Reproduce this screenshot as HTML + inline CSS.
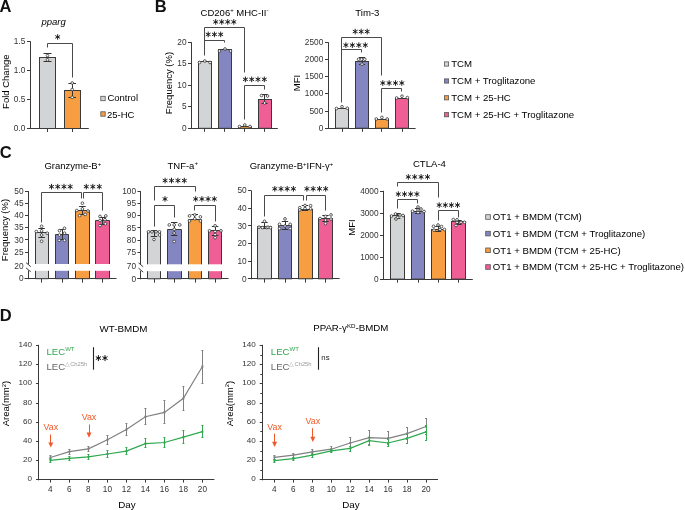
<!DOCTYPE html>
<html><head><meta charset="utf-8"><style>
html,body{margin:0;padding:0;background:#fff;}
body{width:685px;height:510px;overflow:hidden;}
svg{display:block;will-change:transform;}
text{font-family:"Liberation Sans",sans-serif;}
</style></head><body>
<svg width="685" height="510" viewBox="0 0 685 510" font-family="Liberation Sans, sans-serif">
<rect width="685" height="510" fill="#fff"/>
<text x="-0.60" y="11.80" font-size="16.5" text-anchor="start" fill="#111" font-weight="bold">A</text>
<text x="154.80" y="11.80" font-size="16.5" text-anchor="start" fill="#111" font-weight="bold">B</text>
<text x="-0.30" y="157.80" font-size="16.5" text-anchor="start" fill="#111" font-weight="bold">C</text>
<text x="-0.20" y="320.80" font-size="16.5" text-anchor="start" fill="#111" font-weight="bold">D</text>
<text x="53.60" y="24.60" font-size="9.5" text-anchor="middle" fill="#000" font-style="italic">pparg</text>
<line x1="30.50" y1="41.30" x2="30.50" y2="129.00" stroke="#3a3a3a" stroke-width="1"/>
<line x1="27.00" y1="128.50" x2="30.40" y2="128.50" stroke="#3a3a3a" stroke-width="1"/>
<text x="25.40" y="131.10" font-size="8.3" text-anchor="end" fill="#333" >0.0</text>
<line x1="27.00" y1="99.50" x2="30.40" y2="99.50" stroke="#3a3a3a" stroke-width="1"/>
<text x="25.40" y="102.03" font-size="8.3" text-anchor="end" fill="#333" >0.5</text>
<line x1="27.00" y1="70.50" x2="30.40" y2="70.50" stroke="#3a3a3a" stroke-width="1"/>
<text x="25.40" y="72.97" font-size="8.3" text-anchor="end" fill="#333" >1.0</text>
<line x1="27.00" y1="41.50" x2="30.40" y2="41.50" stroke="#3a3a3a" stroke-width="1"/>
<text x="25.40" y="43.90" font-size="8.3" text-anchor="end" fill="#333" >1.5</text>
<line x1="27.00" y1="128.50" x2="88.80" y2="128.50" stroke="#3a3a3a" stroke-width="1"/>
<rect x="39.50" y="57.50" width="16.00" height="71.00" fill="#d3d4d6" stroke="#3a3a3a" stroke-width="1"/>
<rect x="64.50" y="90.50" width="16.00" height="38.00" fill="#f79d42" stroke="#3a3a3a" stroke-width="1"/>
<line x1="47.50" y1="128.50" x2="47.50" y2="132.00" stroke="#3a3a3a" stroke-width="1"/>
<line x1="72.50" y1="128.50" x2="72.50" y2="132.00" stroke="#3a3a3a" stroke-width="1"/>
<line x1="47.50" y1="53.30" x2="47.50" y2="61.80" stroke="#333" stroke-width="1"/>
<line x1="43.50" y1="53.50" x2="51.50" y2="53.50" stroke="#333" stroke-width="1"/>
<line x1="43.50" y1="61.50" x2="51.50" y2="61.50" stroke="#333" stroke-width="1"/>
<circle cx="47.50" cy="55.60" r="1.35" fill="#fff" stroke="#333" stroke-width="0.8"/>
<circle cx="47.50" cy="59.80" r="1.35" fill="#fff" stroke="#333" stroke-width="0.8"/>
<line x1="72.50" y1="83.00" x2="72.50" y2="97.30" stroke="#333" stroke-width="1"/>
<line x1="68.40" y1="83.50" x2="76.00" y2="83.50" stroke="#333" stroke-width="1"/>
<line x1="68.40" y1="97.50" x2="76.00" y2="97.50" stroke="#333" stroke-width="1"/>
<circle cx="72.20" cy="83.00" r="1.35" fill="#fff" stroke="#333" stroke-width="0.8"/>
<circle cx="72.20" cy="89.50" r="1.35" fill="#fff" stroke="#333" stroke-width="0.8"/>
<circle cx="72.20" cy="97.30" r="1.35" fill="#fff" stroke="#333" stroke-width="0.8"/>
<polyline points="47.50,47.50 47.50,43.50 72.50,43.50 72.50,77.50" fill="none" stroke="#4a4a4a" stroke-width="1"/>
<path d="M57.65,34.55L57.65,39.35M55.57,35.75L59.73,38.15M59.73,35.75L55.57,38.15" stroke="#222" stroke-width="1.0" stroke-linecap="round" fill="none"/>
<circle cx="57.65" cy="36.95" r="0.9" fill="#222"/>
<text x="0" y="0" font-size="9.5" text-anchor="middle" fill="#000" transform="translate(9.30,81.70) rotate(-90)">Fold Change</text>
<rect x="100.80" y="96.30" width="4.40" height="4.40" fill="#d3d4d6" stroke="#555" stroke-width="0.8"/>
<text x="107.40" y="101.30" font-size="9.5" text-anchor="start" fill="#000" >Control</text>
<rect x="100.80" y="111.80" width="4.40" height="4.40" fill="#f79d42" stroke="#555" stroke-width="0.8"/>
<text x="107.00" y="117.50" font-size="9.5" text-anchor="start" fill="#000" >25-HC</text>
<text x="200.60" y="15.70" font-size="9.5" text-anchor="start" fill="#000" >CD206<tspan font-size="6" dy="-3.5">+</tspan><tspan dy="3.5"> MHC-II</tspan><tspan font-size="6" dy="-3.5">-</tspan></text>
<line x1="191.50" y1="42.20" x2="191.50" y2="128.80" stroke="#3a3a3a" stroke-width="1"/>
<line x1="188.00" y1="128.50" x2="191.50" y2="128.50" stroke="#3a3a3a" stroke-width="1"/>
<text x="186.50" y="130.90" font-size="8.3" text-anchor="end" fill="#333" >0</text>
<line x1="188.00" y1="106.50" x2="191.50" y2="106.50" stroke="#3a3a3a" stroke-width="1"/>
<text x="186.50" y="109.40" font-size="8.3" text-anchor="end" fill="#333" >5</text>
<line x1="188.00" y1="85.50" x2="191.50" y2="85.50" stroke="#3a3a3a" stroke-width="1"/>
<text x="186.50" y="87.90" font-size="8.3" text-anchor="end" fill="#333" >10</text>
<line x1="188.00" y1="63.50" x2="191.50" y2="63.50" stroke="#3a3a3a" stroke-width="1"/>
<text x="186.50" y="66.40" font-size="8.3" text-anchor="end" fill="#333" >15</text>
<line x1="188.00" y1="42.50" x2="191.50" y2="42.50" stroke="#3a3a3a" stroke-width="1"/>
<text x="186.50" y="44.90" font-size="8.3" text-anchor="end" fill="#333" >20</text>
<line x1="188.00" y1="128.50" x2="277.80" y2="128.50" stroke="#3a3a3a" stroke-width="1"/>
<text x="0" y="0" font-size="9.5" text-anchor="middle" fill="#000" transform="translate(171.60,83.00) rotate(-90)">Frequency (%)</text>
<rect x="198.50" y="61.50" width="13.00" height="66.80" fill="#d3d4d6" stroke="#3a3a3a" stroke-width="1"/>
<line x1="204.50" y1="128.30" x2="204.50" y2="131.80" stroke="#3a3a3a" stroke-width="1"/>
<rect x="218.50" y="49.50" width="13.00" height="78.80" fill="#8486c1" stroke="#3a3a3a" stroke-width="1"/>
<line x1="224.50" y1="128.30" x2="224.50" y2="131.80" stroke="#3a3a3a" stroke-width="1"/>
<rect x="238.50" y="126.50" width="13.00" height="1.80" fill="#f79d42" stroke="#3a3a3a" stroke-width="1"/>
<line x1="244.50" y1="128.30" x2="244.50" y2="131.80" stroke="#3a3a3a" stroke-width="1"/>
<rect x="258.50" y="99.50" width="13.00" height="28.80" fill="#ef5f95" stroke="#3a3a3a" stroke-width="1"/>
<line x1="264.50" y1="128.30" x2="264.50" y2="131.80" stroke="#3a3a3a" stroke-width="1"/>
<circle cx="199.50" cy="62.50" r="1.35" fill="#fff" stroke="#333" stroke-width="0.8"/>
<circle cx="204.80" cy="61.00" r="1.35" fill="#fff" stroke="#333" stroke-width="0.8"/>
<circle cx="210.00" cy="62.50" r="1.35" fill="#fff" stroke="#333" stroke-width="0.8"/>
<circle cx="219.50" cy="51.00" r="1.35" fill="#fff" stroke="#333" stroke-width="0.8"/>
<circle cx="225.00" cy="49.00" r="1.35" fill="#fff" stroke="#333" stroke-width="0.8"/>
<circle cx="230.50" cy="51.00" r="1.35" fill="#fff" stroke="#333" stroke-width="0.8"/>
<circle cx="239.50" cy="126.50" r="1.35" fill="#fff" stroke="#333" stroke-width="0.8"/>
<circle cx="244.80" cy="125.00" r="1.35" fill="#fff" stroke="#333" stroke-width="0.8"/>
<circle cx="250.00" cy="126.50" r="1.35" fill="#fff" stroke="#333" stroke-width="0.8"/>
<line x1="264.50" y1="94.60" x2="264.50" y2="103.40" stroke="#333" stroke-width="1"/>
<line x1="261.60" y1="94.50" x2="267.60" y2="94.50" stroke="#333" stroke-width="1"/>
<line x1="261.60" y1="103.50" x2="267.60" y2="103.50" stroke="#333" stroke-width="1"/>
<circle cx="261.50" cy="95.50" r="1.35" fill="#fff" stroke="#333" stroke-width="0.8"/>
<circle cx="267.50" cy="96.00" r="1.35" fill="#fff" stroke="#333" stroke-width="0.8"/>
<circle cx="264.60" cy="103.00" r="1.35" fill="#fff" stroke="#333" stroke-width="0.8"/>
<polyline points="204.50,55.50 204.50,27.50 244.50,27.50 244.50,72.50" fill="none" stroke="#4a4a4a" stroke-width="1"/>
<path d="M215.70,19.50L215.70,24.30M213.62,20.70L217.78,23.10M217.78,20.70L213.62,23.10" stroke="#222" stroke-width="1.0" stroke-linecap="round" fill="none"/>
<circle cx="215.70" cy="21.90" r="0.9" fill="#222"/>
<path d="M221.73,19.50L221.73,24.30M219.65,20.70L223.81,23.10M223.81,20.70L219.65,23.10" stroke="#222" stroke-width="1.0" stroke-linecap="round" fill="none"/>
<circle cx="221.73" cy="21.90" r="0.9" fill="#222"/>
<path d="M227.77,19.50L227.77,24.30M225.69,20.70L229.85,23.10M229.85,20.70L225.69,23.10" stroke="#222" stroke-width="1.0" stroke-linecap="round" fill="none"/>
<circle cx="227.77" cy="21.90" r="0.9" fill="#222"/>
<path d="M233.80,19.50L233.80,24.30M231.72,20.70L235.88,23.10M235.88,20.70L231.72,23.10" stroke="#222" stroke-width="1.0" stroke-linecap="round" fill="none"/>
<circle cx="233.80" cy="21.90" r="0.9" fill="#222"/>
<polyline points="204.50,40.50 224.50,40.50 224.50,42.50" fill="none" stroke="#4a4a4a" stroke-width="1"/>
<path d="M208.20,32.00L208.20,36.80M206.12,33.20L210.28,35.60M210.28,33.20L206.12,35.60" stroke="#222" stroke-width="1.0" stroke-linecap="round" fill="none"/>
<circle cx="208.20" cy="34.40" r="0.9" fill="#222"/>
<path d="M214.45,32.00L214.45,36.80M212.37,33.20L216.53,35.60M216.53,33.20L212.37,35.60" stroke="#222" stroke-width="1.0" stroke-linecap="round" fill="none"/>
<circle cx="214.45" cy="34.40" r="0.9" fill="#222"/>
<path d="M220.70,32.00L220.70,36.80M218.62,33.20L222.78,35.60M222.78,33.20L218.62,35.60" stroke="#222" stroke-width="1.0" stroke-linecap="round" fill="none"/>
<circle cx="220.70" cy="34.40" r="0.9" fill="#222"/>
<polyline points="244.50,119.50 244.50,85.50 264.50,85.50 264.50,89.50" fill="none" stroke="#4a4a4a" stroke-width="1"/>
<path d="M245.40,76.95L245.40,81.75M243.32,78.15L247.48,80.55M247.48,78.15L243.32,80.55" stroke="#222" stroke-width="1.0" stroke-linecap="round" fill="none"/>
<circle cx="245.40" cy="79.35" r="0.9" fill="#222"/>
<path d="M251.70,76.95L251.70,81.75M249.62,78.15L253.78,80.55M253.78,78.15L249.62,80.55" stroke="#222" stroke-width="1.0" stroke-linecap="round" fill="none"/>
<circle cx="251.70" cy="79.35" r="0.9" fill="#222"/>
<path d="M258.00,76.95L258.00,81.75M255.92,78.15L260.08,80.55M260.08,78.15L255.92,80.55" stroke="#222" stroke-width="1.0" stroke-linecap="round" fill="none"/>
<circle cx="258.00" cy="79.35" r="0.9" fill="#222"/>
<path d="M264.30,76.95L264.30,81.75M262.22,78.15L266.38,80.55M266.38,78.15L262.22,80.55" stroke="#222" stroke-width="1.0" stroke-linecap="round" fill="none"/>
<circle cx="264.30" cy="79.35" r="0.9" fill="#222"/>
<text x="355.30" y="15.80" font-size="9.6" text-anchor="start" fill="#000" >Tim-3</text>
<line x1="328.50" y1="42.20" x2="328.50" y2="128.70" stroke="#3a3a3a" stroke-width="1"/>
<line x1="325.00" y1="128.50" x2="328.40" y2="128.50" stroke="#3a3a3a" stroke-width="1"/>
<text x="323.30" y="130.80" font-size="8.3" text-anchor="end" fill="#333" >0</text>
<line x1="325.00" y1="111.50" x2="328.40" y2="111.50" stroke="#3a3a3a" stroke-width="1"/>
<text x="323.30" y="113.60" font-size="8.3" text-anchor="end" fill="#333" >500</text>
<line x1="325.00" y1="93.50" x2="328.40" y2="93.50" stroke="#3a3a3a" stroke-width="1"/>
<text x="323.30" y="96.40" font-size="8.3" text-anchor="end" fill="#333" >1000</text>
<line x1="325.00" y1="76.50" x2="328.40" y2="76.50" stroke="#3a3a3a" stroke-width="1"/>
<text x="323.30" y="79.20" font-size="8.3" text-anchor="end" fill="#333" >1500</text>
<line x1="325.00" y1="59.50" x2="328.40" y2="59.50" stroke="#3a3a3a" stroke-width="1"/>
<text x="323.30" y="62.00" font-size="8.3" text-anchor="end" fill="#333" >2000</text>
<line x1="325.00" y1="42.50" x2="328.40" y2="42.50" stroke="#3a3a3a" stroke-width="1"/>
<text x="323.30" y="44.80" font-size="8.3" text-anchor="end" fill="#333" >2500</text>
<line x1="325.00" y1="128.50" x2="415.60" y2="128.50" stroke="#3a3a3a" stroke-width="1"/>
<text x="0" y="0" font-size="9.5" text-anchor="middle" fill="#000" transform="translate(299.50,83.00) rotate(-90)">MFI</text>
<rect x="335.50" y="108.50" width="13.00" height="19.70" fill="#d3d4d6" stroke="#3a3a3a" stroke-width="1"/>
<line x1="342.50" y1="128.20" x2="342.50" y2="131.80" stroke="#3a3a3a" stroke-width="1"/>
<rect x="355.50" y="61.50" width="13.00" height="66.70" fill="#8486c1" stroke="#3a3a3a" stroke-width="1"/>
<line x1="362.50" y1="128.20" x2="362.50" y2="131.80" stroke="#3a3a3a" stroke-width="1"/>
<rect x="375.50" y="119.50" width="13.00" height="8.70" fill="#f79d42" stroke="#3a3a3a" stroke-width="1"/>
<line x1="381.50" y1="128.20" x2="381.50" y2="131.80" stroke="#3a3a3a" stroke-width="1"/>
<rect x="395.50" y="98.50" width="13.00" height="29.70" fill="#ef5f95" stroke="#3a3a3a" stroke-width="1"/>
<line x1="402.50" y1="128.20" x2="402.50" y2="131.80" stroke="#3a3a3a" stroke-width="1"/>
<line x1="362.50" y1="57.80" x2="362.50" y2="64.20" stroke="#333" stroke-width="1"/>
<line x1="359.00" y1="57.50" x2="365.00" y2="57.50" stroke="#333" stroke-width="1"/>
<line x1="359.00" y1="64.50" x2="365.00" y2="64.50" stroke="#333" stroke-width="1"/>
<circle cx="336.50" cy="108.50" r="1.35" fill="#fff" stroke="#333" stroke-width="0.8"/>
<circle cx="342.00" cy="106.80" r="1.35" fill="#fff" stroke="#333" stroke-width="0.8"/>
<circle cx="347.30" cy="108.20" r="1.35" fill="#fff" stroke="#333" stroke-width="0.8"/>
<circle cx="358.60" cy="59.30" r="1.35" fill="#fff" stroke="#333" stroke-width="0.8"/>
<circle cx="361.60" cy="59.30" r="1.35" fill="#fff" stroke="#333" stroke-width="0.8"/>
<circle cx="364.80" cy="59.30" r="1.35" fill="#fff" stroke="#333" stroke-width="0.8"/>
<circle cx="362.00" cy="64.20" r="1.35" fill="#fff" stroke="#333" stroke-width="0.8"/>
<circle cx="376.30" cy="119.00" r="1.35" fill="#fff" stroke="#333" stroke-width="0.8"/>
<circle cx="381.90" cy="117.40" r="1.35" fill="#fff" stroke="#333" stroke-width="0.8"/>
<circle cx="387.20" cy="119.00" r="1.35" fill="#fff" stroke="#333" stroke-width="0.8"/>
<circle cx="396.60" cy="98.00" r="1.35" fill="#fff" stroke="#333" stroke-width="0.8"/>
<circle cx="402.00" cy="96.20" r="1.35" fill="#fff" stroke="#333" stroke-width="0.8"/>
<circle cx="407.40" cy="97.60" r="1.35" fill="#fff" stroke="#333" stroke-width="0.8"/>
<polyline points="341.50,102.50 341.50,37.50 381.50,37.50 381.50,75.50" fill="none" stroke="#4a4a4a" stroke-width="1"/>
<path d="M355.20,29.15L355.20,33.95M353.12,30.35L357.28,32.75M357.28,30.35L353.12,32.75" stroke="#222" stroke-width="1.0" stroke-linecap="round" fill="none"/>
<circle cx="355.20" cy="31.55" r="0.9" fill="#222"/>
<path d="M361.20,29.15L361.20,33.95M359.12,30.35L363.28,32.75M363.28,30.35L359.12,32.75" stroke="#222" stroke-width="1.0" stroke-linecap="round" fill="none"/>
<circle cx="361.20" cy="31.55" r="0.9" fill="#222"/>
<path d="M367.20,29.15L367.20,33.95M365.12,30.35L369.28,32.75M369.28,30.35L365.12,32.75" stroke="#222" stroke-width="1.0" stroke-linecap="round" fill="none"/>
<circle cx="367.20" cy="31.55" r="0.9" fill="#222"/>
<polyline points="341.50,49.50 361.50,49.50 361.50,52.50" fill="none" stroke="#4a4a4a" stroke-width="1"/>
<path d="M345.90,42.75L345.90,47.55M343.82,43.95L347.98,46.35M347.98,43.95L343.82,46.35" stroke="#222" stroke-width="1.0" stroke-linecap="round" fill="none"/>
<circle cx="345.90" cy="45.15" r="0.9" fill="#222"/>
<path d="M352.37,42.75L352.37,47.55M350.29,43.95L354.45,46.35M354.45,43.95L350.29,46.35" stroke="#222" stroke-width="1.0" stroke-linecap="round" fill="none"/>
<circle cx="352.37" cy="45.15" r="0.9" fill="#222"/>
<path d="M358.83,42.75L358.83,47.55M356.75,43.95L360.91,46.35M360.91,43.95L356.75,46.35" stroke="#222" stroke-width="1.0" stroke-linecap="round" fill="none"/>
<circle cx="358.83" cy="45.15" r="0.9" fill="#222"/>
<path d="M365.30,42.75L365.30,47.55M363.22,43.95L367.38,46.35M367.38,43.95L363.22,46.35" stroke="#222" stroke-width="1.0" stroke-linecap="round" fill="none"/>
<circle cx="365.30" cy="45.15" r="0.9" fill="#222"/>
<polyline points="381.50,112.50 381.50,88.50 401.50,88.50 401.50,91.50" fill="none" stroke="#4a4a4a" stroke-width="1"/>
<path d="M382.80,80.65L382.80,85.45M380.72,81.85L384.88,84.25M384.88,81.85L380.72,84.25" stroke="#222" stroke-width="1.0" stroke-linecap="round" fill="none"/>
<circle cx="382.80" cy="83.05" r="0.9" fill="#222"/>
<path d="M389.13,80.65L389.13,85.45M387.05,81.85L391.21,84.25M391.21,81.85L387.05,84.25" stroke="#222" stroke-width="1.0" stroke-linecap="round" fill="none"/>
<circle cx="389.13" cy="83.05" r="0.9" fill="#222"/>
<path d="M395.47,80.65L395.47,85.45M393.39,81.85L397.55,84.25M397.55,81.85L393.39,84.25" stroke="#222" stroke-width="1.0" stroke-linecap="round" fill="none"/>
<circle cx="395.47" cy="83.05" r="0.9" fill="#222"/>
<path d="M401.80,80.65L401.80,85.45M399.72,81.85L403.88,84.25M403.88,81.85L399.72,84.25" stroke="#222" stroke-width="1.0" stroke-linecap="round" fill="none"/>
<circle cx="401.80" cy="83.05" r="0.9" fill="#222"/>
<rect x="444.40" y="61.90" width="4.20" height="4.20" fill="#d3d4d6" stroke="#555" stroke-width="0.8"/>
<text x="451.20" y="66.90" font-size="9.65" text-anchor="start" fill="#000" >TCM</text>
<rect x="444.40" y="78.90" width="4.20" height="4.20" fill="#8486c1" stroke="#555" stroke-width="0.8"/>
<text x="451.20" y="83.90" font-size="9.65" text-anchor="start" fill="#000" >TCM + Troglitazone</text>
<rect x="444.40" y="95.70" width="4.20" height="4.20" fill="#f79d42" stroke="#555" stroke-width="0.8"/>
<text x="451.20" y="100.70" font-size="9.65" text-anchor="start" fill="#000" >TCM + 25-HC</text>
<rect x="444.40" y="112.60" width="4.20" height="4.20" fill="#ef5f95" stroke="#555" stroke-width="0.8"/>
<text x="451.20" y="117.60" font-size="9.65" text-anchor="start" fill="#000" >TCM + 25-HC + Troglitazone</text>
<text x="72.80" y="169.10" font-size="9.5" text-anchor="middle" fill="#000" >Granzyme-B<tspan font-size="6" dy="-3.5">+</tspan></text>
<line x1="28.50" y1="191.10" x2="28.50" y2="264.00" stroke="#3a3a3a" stroke-width="1"/>
<line x1="28.50" y1="270.50" x2="28.50" y2="279.20" stroke="#3a3a3a" stroke-width="1"/>
<line x1="26.10" y1="262.70" x2="30.70" y2="266.60" stroke="#3a3a3a" stroke-width="1"/>
<line x1="26.10" y1="267.90" x2="30.70" y2="271.80" stroke="#3a3a3a" stroke-width="1"/>
<line x1="25.00" y1="191.50" x2="28.40" y2="191.50" stroke="#3a3a3a" stroke-width="1"/>
<text x="23.60" y="193.90" font-size="8.3" text-anchor="end" fill="#333" >50</text>
<line x1="25.00" y1="203.50" x2="28.40" y2="203.50" stroke="#3a3a3a" stroke-width="1"/>
<text x="23.60" y="206.00" font-size="8.3" text-anchor="end" fill="#333" >45</text>
<line x1="25.00" y1="215.50" x2="28.40" y2="215.50" stroke="#3a3a3a" stroke-width="1"/>
<text x="23.60" y="218.20" font-size="8.3" text-anchor="end" fill="#333" >40</text>
<line x1="25.00" y1="227.50" x2="28.40" y2="227.50" stroke="#3a3a3a" stroke-width="1"/>
<text x="23.60" y="230.30" font-size="8.3" text-anchor="end" fill="#333" >35</text>
<line x1="25.00" y1="239.50" x2="28.40" y2="239.50" stroke="#3a3a3a" stroke-width="1"/>
<text x="23.60" y="242.50" font-size="8.3" text-anchor="end" fill="#333" >30</text>
<line x1="25.00" y1="252.50" x2="28.40" y2="252.50" stroke="#3a3a3a" stroke-width="1"/>
<text x="23.60" y="254.70" font-size="8.3" text-anchor="end" fill="#333" >25</text>
<line x1="25.00" y1="278.50" x2="28.40" y2="278.50" stroke="#3a3a3a" stroke-width="1"/>
<text x="23.60" y="281.40" font-size="8.3" text-anchor="end" fill="#333" >0</text>
<text x="23.60" y="269.00" font-size="8.3" text-anchor="end" fill="#333" >20</text>
<line x1="24.50" y1="278.50" x2="116.50" y2="278.50" stroke="#3a3a3a" stroke-width="1"/>
<text x="0" y="0" font-size="9.5" text-anchor="middle" fill="#000" transform="translate(8.30,230.00) rotate(-90)">Frequency (%)</text>
<path d="M35.50,264V232.50H48.50V264" fill="#d3d4d6" stroke="#3a3a3a" stroke-width="1"/>
<path d="M35.50,270.8V278.70H48.50V270.8" fill="#d3d4d6" stroke="#3a3a3a" stroke-width="1"/>
<line x1="41.50" y1="278.70" x2="41.50" y2="282.60" stroke="#3a3a3a" stroke-width="1"/>
<path d="M55.50,264V234.50H68.50V264" fill="#8486c1" stroke="#3a3a3a" stroke-width="1"/>
<path d="M55.50,270.8V278.70H68.50V270.8" fill="#8486c1" stroke="#3a3a3a" stroke-width="1"/>
<line x1="62.50" y1="278.70" x2="62.50" y2="282.60" stroke="#3a3a3a" stroke-width="1"/>
<path d="M75.50,264V210.50H89.50V264" fill="#f79d42" stroke="#3a3a3a" stroke-width="1"/>
<path d="M75.50,270.8V278.70H89.50V270.8" fill="#f79d42" stroke="#3a3a3a" stroke-width="1"/>
<line x1="82.50" y1="278.70" x2="82.50" y2="282.60" stroke="#3a3a3a" stroke-width="1"/>
<path d="M95.50,264V220.50H109.50V264" fill="#ef5f95" stroke="#3a3a3a" stroke-width="1"/>
<path d="M95.50,270.8V278.70H109.50V270.8" fill="#ef5f95" stroke="#3a3a3a" stroke-width="1"/>
<line x1="102.50" y1="278.70" x2="102.50" y2="282.60" stroke="#3a3a3a" stroke-width="1"/>
<line x1="41.50" y1="228.40" x2="41.50" y2="237.50" stroke="#333" stroke-width="1"/>
<line x1="38.30" y1="228.50" x2="44.90" y2="228.50" stroke="#333" stroke-width="1"/>
<line x1="38.30" y1="237.50" x2="44.90" y2="237.50" stroke="#333" stroke-width="1"/>
<circle cx="41.60" cy="226.30" r="1.35" fill="#fff" stroke="#333" stroke-width="0.8"/>
<circle cx="36.30" cy="231.50" r="1.35" fill="#fff" stroke="#333" stroke-width="0.8"/>
<circle cx="41.60" cy="230.80" r="1.35" fill="#fff" stroke="#333" stroke-width="0.8"/>
<circle cx="47.20" cy="233.20" r="1.35" fill="#fff" stroke="#333" stroke-width="0.8"/>
<circle cx="41.60" cy="235.00" r="1.35" fill="#fff" stroke="#333" stroke-width="0.8"/>
<circle cx="41.60" cy="241.30" r="1.35" fill="#fff" stroke="#333" stroke-width="0.8"/>
<line x1="62.50" y1="229.80" x2="62.50" y2="239.00" stroke="#333" stroke-width="1"/>
<line x1="58.70" y1="229.50" x2="65.30" y2="229.50" stroke="#333" stroke-width="1"/>
<line x1="58.70" y1="239.50" x2="65.30" y2="239.50" stroke="#333" stroke-width="1"/>
<circle cx="64.50" cy="228.30" r="1.35" fill="#fff" stroke="#333" stroke-width="0.8"/>
<circle cx="59.50" cy="230.70" r="1.35" fill="#fff" stroke="#333" stroke-width="0.8"/>
<circle cx="64.50" cy="233.20" r="1.35" fill="#fff" stroke="#333" stroke-width="0.8"/>
<circle cx="59.50" cy="235.00" r="1.35" fill="#fff" stroke="#333" stroke-width="0.8"/>
<circle cx="59.20" cy="240.30" r="1.35" fill="#fff" stroke="#333" stroke-width="0.8"/>
<circle cx="64.50" cy="240.30" r="1.35" fill="#fff" stroke="#333" stroke-width="0.8"/>
<line x1="82.50" y1="206.60" x2="82.50" y2="214.10" stroke="#333" stroke-width="1"/>
<line x1="79.10" y1="206.50" x2="85.70" y2="206.50" stroke="#333" stroke-width="1"/>
<line x1="79.10" y1="214.50" x2="85.70" y2="214.50" stroke="#333" stroke-width="1"/>
<circle cx="82.40" cy="203.20" r="1.35" fill="#fff" stroke="#333" stroke-width="0.8"/>
<circle cx="82.40" cy="208.90" r="1.35" fill="#fff" stroke="#333" stroke-width="0.8"/>
<circle cx="76.80" cy="210.50" r="1.35" fill="#fff" stroke="#333" stroke-width="0.8"/>
<circle cx="88.00" cy="211.00" r="1.35" fill="#fff" stroke="#333" stroke-width="0.8"/>
<circle cx="79.60" cy="215.60" r="1.35" fill="#fff" stroke="#333" stroke-width="0.8"/>
<circle cx="85.20" cy="214.40" r="1.35" fill="#fff" stroke="#333" stroke-width="0.8"/>
<line x1="102.50" y1="217.00" x2="102.50" y2="224.00" stroke="#333" stroke-width="1"/>
<line x1="99.20" y1="217.50" x2="105.80" y2="217.50" stroke="#333" stroke-width="1"/>
<line x1="99.20" y1="224.50" x2="105.80" y2="224.50" stroke="#333" stroke-width="1"/>
<circle cx="100.00" cy="216.40" r="1.35" fill="#fff" stroke="#333" stroke-width="0.8"/>
<circle cx="105.80" cy="215.90" r="1.35" fill="#fff" stroke="#333" stroke-width="0.8"/>
<circle cx="100.00" cy="220.50" r="1.35" fill="#fff" stroke="#333" stroke-width="0.8"/>
<circle cx="105.00" cy="219.70" r="1.35" fill="#fff" stroke="#333" stroke-width="0.8"/>
<circle cx="100.00" cy="225.60" r="1.35" fill="#fff" stroke="#333" stroke-width="0.8"/>
<circle cx="105.40" cy="223.80" r="1.35" fill="#fff" stroke="#333" stroke-width="0.8"/>
<polyline points="41.50,222.50 41.50,192.50 81.50,192.50 81.50,198.50" fill="none" stroke="#4a4a4a" stroke-width="1"/>
<path d="M51.50,184.25L51.50,189.05M49.42,185.45L53.58,187.85M53.58,185.45L49.42,187.85" stroke="#222" stroke-width="1.0" stroke-linecap="round" fill="none"/>
<circle cx="51.50" cy="186.65" r="0.9" fill="#222"/>
<path d="M57.73,184.25L57.73,189.05M55.65,185.45L59.81,187.85M59.81,185.45L55.65,187.85" stroke="#222" stroke-width="1.0" stroke-linecap="round" fill="none"/>
<circle cx="57.73" cy="186.65" r="0.9" fill="#222"/>
<path d="M63.97,184.25L63.97,189.05M61.89,185.45L66.05,187.85M66.05,185.45L61.89,187.85" stroke="#222" stroke-width="1.0" stroke-linecap="round" fill="none"/>
<circle cx="63.97" cy="186.65" r="0.9" fill="#222"/>
<path d="M70.20,184.25L70.20,189.05M68.12,185.45L72.28,187.85M72.28,185.45L68.12,187.85" stroke="#222" stroke-width="1.0" stroke-linecap="round" fill="none"/>
<circle cx="70.20" cy="186.65" r="0.9" fill="#222"/>
<polyline points="83.50,198.50 83.50,192.50 102.50,192.50 102.50,210.50" fill="none" stroke="#4a4a4a" stroke-width="1"/>
<path d="M86.30,184.25L86.30,189.05M84.22,185.45L88.38,187.85M88.38,185.45L84.22,187.85" stroke="#222" stroke-width="1.0" stroke-linecap="round" fill="none"/>
<circle cx="86.30" cy="186.65" r="0.9" fill="#222"/>
<path d="M92.80,184.25L92.80,189.05M90.72,185.45L94.88,187.85M94.88,185.45L90.72,187.85" stroke="#222" stroke-width="1.0" stroke-linecap="round" fill="none"/>
<circle cx="92.80" cy="186.65" r="0.9" fill="#222"/>
<path d="M99.30,184.25L99.30,189.05M97.22,185.45L101.38,187.85M101.38,185.45L97.22,187.85" stroke="#222" stroke-width="1.0" stroke-linecap="round" fill="none"/>
<circle cx="99.30" cy="186.65" r="0.9" fill="#222"/>
<text x="182.70" y="168.90" font-size="9.5" text-anchor="middle" fill="#000" >TNF-a<tspan font-size="6" dy="-3.5">+</tspan></text>
<line x1="140.50" y1="191.40" x2="140.50" y2="264.20" stroke="#3a3a3a" stroke-width="1"/>
<line x1="140.50" y1="270.80" x2="140.50" y2="279.30" stroke="#3a3a3a" stroke-width="1"/>
<line x1="138.60" y1="262.90" x2="143.20" y2="266.80" stroke="#3a3a3a" stroke-width="1"/>
<line x1="138.60" y1="268.20" x2="143.20" y2="272.10" stroke="#3a3a3a" stroke-width="1"/>
<line x1="137.50" y1="191.50" x2="140.90" y2="191.50" stroke="#3a3a3a" stroke-width="1"/>
<text x="136.10" y="194.10" font-size="8.3" text-anchor="end" fill="#333" >100</text>
<line x1="137.50" y1="203.50" x2="140.90" y2="203.50" stroke="#3a3a3a" stroke-width="1"/>
<text x="136.10" y="206.20" font-size="8.3" text-anchor="end" fill="#333" >95</text>
<line x1="137.50" y1="215.50" x2="140.90" y2="215.50" stroke="#3a3a3a" stroke-width="1"/>
<text x="136.10" y="218.40" font-size="8.3" text-anchor="end" fill="#333" >90</text>
<line x1="137.50" y1="227.50" x2="140.90" y2="227.50" stroke="#3a3a3a" stroke-width="1"/>
<text x="136.10" y="230.60" font-size="8.3" text-anchor="end" fill="#333" >85</text>
<line x1="137.50" y1="240.50" x2="140.90" y2="240.50" stroke="#3a3a3a" stroke-width="1"/>
<text x="136.10" y="242.70" font-size="8.3" text-anchor="end" fill="#333" >80</text>
<line x1="137.50" y1="252.50" x2="140.90" y2="252.50" stroke="#3a3a3a" stroke-width="1"/>
<text x="136.10" y="255.00" font-size="8.3" text-anchor="end" fill="#333" >75</text>
<line x1="137.50" y1="278.50" x2="140.90" y2="278.50" stroke="#3a3a3a" stroke-width="1"/>
<text x="136.10" y="281.50" font-size="8.3" text-anchor="end" fill="#333" >0</text>
<text x="136.10" y="269.10" font-size="8.3" text-anchor="end" fill="#333" >70</text>
<line x1="137.30" y1="278.50" x2="228.50" y2="278.50" stroke="#3a3a3a" stroke-width="1"/>
<path d="M147.50,264.3V231.50H160.50V264.3" fill="#d3d4d6" stroke="#3a3a3a" stroke-width="1"/>
<path d="M147.50,271.2V278.80H160.50V271.2" fill="#d3d4d6" stroke="#3a3a3a" stroke-width="1"/>
<line x1="154.50" y1="278.80" x2="154.50" y2="282.60" stroke="#3a3a3a" stroke-width="1"/>
<path d="M167.50,264.3V229.50H181.50V264.3" fill="#8486c1" stroke="#3a3a3a" stroke-width="1"/>
<path d="M167.50,271.2V278.80H181.50V271.2" fill="#8486c1" stroke="#3a3a3a" stroke-width="1"/>
<line x1="174.50" y1="278.80" x2="174.50" y2="282.60" stroke="#3a3a3a" stroke-width="1"/>
<path d="M188.50,264.3V219.50H201.50V264.3" fill="#f79d42" stroke="#3a3a3a" stroke-width="1"/>
<path d="M188.50,271.2V278.80H201.50V271.2" fill="#f79d42" stroke="#3a3a3a" stroke-width="1"/>
<line x1="195.50" y1="278.80" x2="195.50" y2="282.60" stroke="#3a3a3a" stroke-width="1"/>
<path d="M208.50,264.3V230.50H221.50V264.3" fill="#ef5f95" stroke="#3a3a3a" stroke-width="1"/>
<path d="M208.50,271.2V278.80H221.50V271.2" fill="#ef5f95" stroke="#3a3a3a" stroke-width="1"/>
<line x1="215.50" y1="278.80" x2="215.50" y2="282.60" stroke="#3a3a3a" stroke-width="1"/>
<line x1="154.50" y1="230.50" x2="154.50" y2="236.80" stroke="#333" stroke-width="1"/>
<line x1="150.80" y1="230.50" x2="157.20" y2="230.50" stroke="#333" stroke-width="1"/>
<line x1="150.80" y1="236.50" x2="157.20" y2="236.50" stroke="#333" stroke-width="1"/>
<circle cx="148.50" cy="231.80" r="1.35" fill="#fff" stroke="#333" stroke-width="0.8"/>
<circle cx="152.00" cy="231.80" r="1.35" fill="#fff" stroke="#333" stroke-width="0.8"/>
<circle cx="156.00" cy="231.80" r="1.35" fill="#fff" stroke="#333" stroke-width="0.8"/>
<circle cx="159.50" cy="231.80" r="1.35" fill="#fff" stroke="#333" stroke-width="0.8"/>
<circle cx="159.50" cy="235.00" r="1.35" fill="#fff" stroke="#333" stroke-width="0.8"/>
<circle cx="154.00" cy="239.50" r="1.35" fill="#fff" stroke="#333" stroke-width="0.8"/>
<line x1="174.50" y1="222.40" x2="174.50" y2="235.60" stroke="#333" stroke-width="1"/>
<line x1="171.00" y1="222.50" x2="177.40" y2="222.50" stroke="#333" stroke-width="1"/>
<line x1="171.00" y1="235.50" x2="177.40" y2="235.50" stroke="#333" stroke-width="1"/>
<circle cx="169.30" cy="224.90" r="1.35" fill="#fff" stroke="#333" stroke-width="0.8"/>
<circle cx="174.20" cy="224.90" r="1.35" fill="#fff" stroke="#333" stroke-width="0.8"/>
<circle cx="179.80" cy="224.90" r="1.35" fill="#fff" stroke="#333" stroke-width="0.8"/>
<circle cx="174.20" cy="229.30" r="1.35" fill="#fff" stroke="#333" stroke-width="0.8"/>
<circle cx="174.20" cy="233.00" r="1.35" fill="#fff" stroke="#333" stroke-width="0.8"/>
<circle cx="174.20" cy="241.50" r="1.35" fill="#fff" stroke="#333" stroke-width="0.8"/>
<line x1="194.50" y1="214.90" x2="194.50" y2="219.50" stroke="#333" stroke-width="1"/>
<line x1="191.60" y1="214.50" x2="198.00" y2="214.50" stroke="#333" stroke-width="1"/>
<line x1="191.60" y1="219.50" x2="198.00" y2="219.50" stroke="#333" stroke-width="1"/>
<circle cx="189.50" cy="215.90" r="1.35" fill="#fff" stroke="#333" stroke-width="0.8"/>
<circle cx="194.80" cy="214.90" r="1.35" fill="#fff" stroke="#333" stroke-width="0.8"/>
<circle cx="200.40" cy="216.90" r="1.35" fill="#fff" stroke="#333" stroke-width="0.8"/>
<circle cx="189.50" cy="220.90" r="1.35" fill="#fff" stroke="#333" stroke-width="0.8"/>
<circle cx="194.80" cy="218.80" r="1.35" fill="#fff" stroke="#333" stroke-width="0.8"/>
<circle cx="200.40" cy="220.90" r="1.35" fill="#fff" stroke="#333" stroke-width="0.8"/>
<line x1="215.50" y1="226.50" x2="215.50" y2="235.00" stroke="#333" stroke-width="1"/>
<line x1="211.90" y1="226.50" x2="218.30" y2="226.50" stroke="#333" stroke-width="1"/>
<line x1="211.90" y1="235.50" x2="218.30" y2="235.50" stroke="#333" stroke-width="1"/>
<circle cx="209.50" cy="230.80" r="1.35" fill="#fff" stroke="#333" stroke-width="0.8"/>
<circle cx="215.10" cy="225.80" r="1.35" fill="#fff" stroke="#333" stroke-width="0.8"/>
<circle cx="221.00" cy="230.80" r="1.35" fill="#fff" stroke="#333" stroke-width="0.8"/>
<circle cx="215.10" cy="231.50" r="1.35" fill="#fff" stroke="#333" stroke-width="0.8"/>
<circle cx="215.10" cy="234.50" r="1.35" fill="#fff" stroke="#333" stroke-width="0.8"/>
<circle cx="215.10" cy="237.70" r="1.35" fill="#fff" stroke="#333" stroke-width="0.8"/>
<polyline points="154.50,200.50 154.50,186.50 195.50,186.50 195.50,191.50" fill="none" stroke="#4a4a4a" stroke-width="1"/>
<path d="M165.10,178.15L165.10,182.95M163.02,179.35L167.18,181.75M167.18,179.35L163.02,181.75" stroke="#222" stroke-width="1.0" stroke-linecap="round" fill="none"/>
<circle cx="165.10" cy="180.55" r="0.9" fill="#222"/>
<path d="M171.50,178.15L171.50,182.95M169.42,179.35L173.58,181.75M173.58,179.35L169.42,181.75" stroke="#222" stroke-width="1.0" stroke-linecap="round" fill="none"/>
<circle cx="171.50" cy="180.55" r="0.9" fill="#222"/>
<path d="M177.90,178.15L177.90,182.95M175.82,179.35L179.98,181.75M179.98,179.35L175.82,181.75" stroke="#222" stroke-width="1.0" stroke-linecap="round" fill="none"/>
<circle cx="177.90" cy="180.55" r="0.9" fill="#222"/>
<path d="M184.30,178.15L184.30,182.95M182.22,179.35L186.38,181.75M186.38,179.35L182.22,181.75" stroke="#222" stroke-width="1.0" stroke-linecap="round" fill="none"/>
<circle cx="184.30" cy="180.55" r="0.9" fill="#222"/>
<polyline points="154.50,226.50 154.50,205.50 174.50,205.50 174.50,217.50" fill="none" stroke="#4a4a4a" stroke-width="1"/>
<path d="M165.00,196.55L165.00,201.35M162.92,197.75L167.08,200.15M167.08,197.75L162.92,200.15" stroke="#222" stroke-width="1.0" stroke-linecap="round" fill="none"/>
<circle cx="165.00" cy="198.95" r="0.9" fill="#222"/>
<polyline points="194.50,210.50 194.50,205.50 215.50,205.50 215.50,221.50" fill="none" stroke="#4a4a4a" stroke-width="1"/>
<path d="M195.70,196.55L195.70,201.35M193.62,197.75L197.78,200.15M197.78,197.75L193.62,200.15" stroke="#222" stroke-width="1.0" stroke-linecap="round" fill="none"/>
<circle cx="195.70" cy="198.95" r="0.9" fill="#222"/>
<path d="M201.90,196.55L201.90,201.35M199.82,197.75L203.98,200.15M203.98,197.75L199.82,200.15" stroke="#222" stroke-width="1.0" stroke-linecap="round" fill="none"/>
<circle cx="201.90" cy="198.95" r="0.9" fill="#222"/>
<path d="M208.10,196.55L208.10,201.35M206.02,197.75L210.18,200.15M210.18,197.75L206.02,200.15" stroke="#222" stroke-width="1.0" stroke-linecap="round" fill="none"/>
<circle cx="208.10" cy="198.95" r="0.9" fill="#222"/>
<path d="M214.30,196.55L214.30,201.35M212.22,197.75L216.38,200.15M216.38,197.75L212.22,200.15" stroke="#222" stroke-width="1.0" stroke-linecap="round" fill="none"/>
<circle cx="214.30" cy="198.95" r="0.9" fill="#222"/>
<text x="249.70" y="169.00" font-size="9.5" text-anchor="start" fill="#000" >Granzyme-B<tspan font-size="6" dy="-3.5">+</tspan><tspan dy="3.5">IFN-γ</tspan><tspan font-size="6" dy="-3.5">+</tspan></text>
<line x1="251.50" y1="190.80" x2="251.50" y2="279.30" stroke="#3a3a3a" stroke-width="1"/>
<line x1="248.10" y1="278.50" x2="251.50" y2="278.50" stroke="#3a3a3a" stroke-width="1"/>
<text x="246.70" y="281.50" font-size="8.3" text-anchor="end" fill="#333" >0</text>
<line x1="248.10" y1="261.50" x2="251.50" y2="261.50" stroke="#3a3a3a" stroke-width="1"/>
<text x="246.70" y="263.88" font-size="8.3" text-anchor="end" fill="#333" >10</text>
<line x1="248.10" y1="243.50" x2="251.50" y2="243.50" stroke="#3a3a3a" stroke-width="1"/>
<text x="246.70" y="246.26" font-size="8.3" text-anchor="end" fill="#333" >20</text>
<line x1="248.10" y1="225.50" x2="251.50" y2="225.50" stroke="#3a3a3a" stroke-width="1"/>
<text x="246.70" y="228.64" font-size="8.3" text-anchor="end" fill="#333" >30</text>
<line x1="248.10" y1="208.50" x2="251.50" y2="208.50" stroke="#3a3a3a" stroke-width="1"/>
<text x="246.70" y="211.02" font-size="8.3" text-anchor="end" fill="#333" >40</text>
<line x1="248.10" y1="190.50" x2="251.50" y2="190.50" stroke="#3a3a3a" stroke-width="1"/>
<text x="246.70" y="193.40" font-size="8.3" text-anchor="end" fill="#333" >50</text>
<line x1="247.90" y1="278.50" x2="339.60" y2="278.50" stroke="#3a3a3a" stroke-width="1"/>
<rect x="257.50" y="226.50" width="14.00" height="52.30" fill="#d3d4d6" stroke="#3a3a3a" stroke-width="1"/>
<line x1="264.50" y1="278.80" x2="264.50" y2="282.60" stroke="#3a3a3a" stroke-width="1"/>
<rect x="278.50" y="225.50" width="13.00" height="53.30" fill="#8486c1" stroke="#3a3a3a" stroke-width="1"/>
<line x1="285.50" y1="278.80" x2="285.50" y2="282.60" stroke="#3a3a3a" stroke-width="1"/>
<rect x="298.50" y="209.50" width="14.00" height="69.30" fill="#f79d42" stroke="#3a3a3a" stroke-width="1"/>
<line x1="305.50" y1="278.80" x2="305.50" y2="282.60" stroke="#3a3a3a" stroke-width="1"/>
<rect x="318.50" y="218.50" width="14.00" height="60.30" fill="#ef5f95" stroke="#3a3a3a" stroke-width="1"/>
<line x1="325.50" y1="278.80" x2="325.50" y2="282.60" stroke="#3a3a3a" stroke-width="1"/>
<line x1="264.50" y1="222.50" x2="264.50" y2="228.80" stroke="#333" stroke-width="1"/>
<line x1="261.30" y1="222.50" x2="267.70" y2="222.50" stroke="#333" stroke-width="1"/>
<line x1="261.30" y1="228.50" x2="267.70" y2="228.50" stroke="#333" stroke-width="1"/>
<circle cx="259.00" cy="227.20" r="1.35" fill="#fff" stroke="#333" stroke-width="0.8"/>
<circle cx="262.50" cy="227.60" r="1.35" fill="#fff" stroke="#333" stroke-width="0.8"/>
<circle cx="264.50" cy="221.30" r="1.35" fill="#fff" stroke="#333" stroke-width="0.8"/>
<circle cx="266.50" cy="227.60" r="1.35" fill="#fff" stroke="#333" stroke-width="0.8"/>
<circle cx="268.00" cy="227.20" r="1.35" fill="#fff" stroke="#333" stroke-width="0.8"/>
<circle cx="270.50" cy="227.60" r="1.35" fill="#fff" stroke="#333" stroke-width="0.8"/>
<line x1="285.50" y1="221.90" x2="285.50" y2="229.00" stroke="#333" stroke-width="1"/>
<line x1="281.80" y1="221.50" x2="288.20" y2="221.50" stroke="#333" stroke-width="1"/>
<line x1="281.80" y1="229.50" x2="288.20" y2="229.50" stroke="#333" stroke-width="1"/>
<circle cx="279.50" cy="224.30" r="1.35" fill="#fff" stroke="#333" stroke-width="0.8"/>
<circle cx="290.20" cy="224.30" r="1.35" fill="#fff" stroke="#333" stroke-width="0.8"/>
<circle cx="279.50" cy="228.60" r="1.35" fill="#fff" stroke="#333" stroke-width="0.8"/>
<circle cx="285.00" cy="226.00" r="1.35" fill="#fff" stroke="#333" stroke-width="0.8"/>
<circle cx="290.20" cy="228.60" r="1.35" fill="#fff" stroke="#333" stroke-width="0.8"/>
<circle cx="285.00" cy="218.90" r="1.35" fill="#fff" stroke="#333" stroke-width="0.8"/>
<line x1="305.50" y1="205.00" x2="305.50" y2="210.00" stroke="#333" stroke-width="1"/>
<line x1="301.80" y1="205.50" x2="308.20" y2="205.50" stroke="#333" stroke-width="1"/>
<line x1="301.80" y1="210.50" x2="308.20" y2="210.50" stroke="#333" stroke-width="1"/>
<circle cx="299.80" cy="207.70" r="1.35" fill="#fff" stroke="#333" stroke-width="0.8"/>
<circle cx="305.00" cy="205.50" r="1.35" fill="#fff" stroke="#333" stroke-width="0.8"/>
<circle cx="310.60" cy="205.70" r="1.35" fill="#fff" stroke="#333" stroke-width="0.8"/>
<circle cx="299.80" cy="209.90" r="1.35" fill="#fff" stroke="#333" stroke-width="0.8"/>
<circle cx="305.00" cy="208.50" r="1.35" fill="#fff" stroke="#333" stroke-width="0.8"/>
<circle cx="310.60" cy="208.80" r="1.35" fill="#fff" stroke="#333" stroke-width="0.8"/>
<line x1="325.50" y1="215.00" x2="325.50" y2="221.00" stroke="#333" stroke-width="1"/>
<line x1="322.30" y1="215.50" x2="328.70" y2="215.50" stroke="#333" stroke-width="1"/>
<line x1="322.30" y1="221.50" x2="328.70" y2="221.50" stroke="#333" stroke-width="1"/>
<circle cx="320.00" cy="218.50" r="1.35" fill="#fff" stroke="#333" stroke-width="0.8"/>
<circle cx="325.50" cy="216.40" r="1.35" fill="#fff" stroke="#333" stroke-width="0.8"/>
<circle cx="331.00" cy="214.90" r="1.35" fill="#fff" stroke="#333" stroke-width="0.8"/>
<circle cx="325.50" cy="220.10" r="1.35" fill="#fff" stroke="#333" stroke-width="0.8"/>
<circle cx="331.00" cy="219.10" r="1.35" fill="#fff" stroke="#333" stroke-width="0.8"/>
<circle cx="325.50" cy="223.60" r="1.35" fill="#fff" stroke="#333" stroke-width="0.8"/>
<polyline points="264.50,216.50 264.50,195.50 303.50,195.50 303.50,200.50" fill="none" stroke="#4a4a4a" stroke-width="1"/>
<path d="M274.80,186.40L274.80,191.20M272.72,187.60L276.88,190.00M276.88,187.60L272.72,190.00" stroke="#222" stroke-width="1.0" stroke-linecap="round" fill="none"/>
<circle cx="274.80" cy="188.80" r="0.9" fill="#222"/>
<path d="M281.00,186.40L281.00,191.20M278.92,187.60L283.08,190.00M283.08,187.60L278.92,190.00" stroke="#222" stroke-width="1.0" stroke-linecap="round" fill="none"/>
<circle cx="281.00" cy="188.80" r="0.9" fill="#222"/>
<path d="M287.20,186.40L287.20,191.20M285.12,187.60L289.28,190.00M289.28,187.60L285.12,190.00" stroke="#222" stroke-width="1.0" stroke-linecap="round" fill="none"/>
<circle cx="287.20" cy="188.80" r="0.9" fill="#222"/>
<path d="M293.40,186.40L293.40,191.20M291.32,187.60L295.48,190.00M295.48,187.60L291.32,190.00" stroke="#222" stroke-width="1.0" stroke-linecap="round" fill="none"/>
<circle cx="293.40" cy="188.80" r="0.9" fill="#222"/>
<polyline points="306.50,200.50 306.50,195.50 325.50,195.50 325.50,210.50" fill="none" stroke="#4a4a4a" stroke-width="1"/>
<path d="M306.90,186.40L306.90,191.20M304.82,187.60L308.98,190.00M308.98,187.60L304.82,190.00" stroke="#222" stroke-width="1.0" stroke-linecap="round" fill="none"/>
<circle cx="306.90" cy="188.80" r="0.9" fill="#222"/>
<path d="M313.17,186.40L313.17,191.20M311.09,187.60L315.25,190.00M315.25,187.60L311.09,190.00" stroke="#222" stroke-width="1.0" stroke-linecap="round" fill="none"/>
<circle cx="313.17" cy="188.80" r="0.9" fill="#222"/>
<path d="M319.43,186.40L319.43,191.20M317.35,187.60L321.51,190.00M321.51,187.60L317.35,190.00" stroke="#222" stroke-width="1.0" stroke-linecap="round" fill="none"/>
<circle cx="319.43" cy="188.80" r="0.9" fill="#222"/>
<path d="M325.70,186.40L325.70,191.20M323.62,187.60L327.78,190.00M327.78,187.60L323.62,190.00" stroke="#222" stroke-width="1.0" stroke-linecap="round" fill="none"/>
<circle cx="325.70" cy="188.80" r="0.9" fill="#222"/>
<text x="412.90" y="167.30" font-size="9.6" text-anchor="start" fill="#000" >CTLA-4</text>
<line x1="383.50" y1="190.80" x2="383.50" y2="279.60" stroke="#3a3a3a" stroke-width="1"/>
<line x1="380.00" y1="279.50" x2="383.40" y2="279.50" stroke="#3a3a3a" stroke-width="1"/>
<text x="378.60" y="281.80" font-size="8.3" text-anchor="end" fill="#333" >0</text>
<line x1="380.00" y1="257.50" x2="383.40" y2="257.50" stroke="#3a3a3a" stroke-width="1"/>
<text x="378.60" y="259.80" font-size="8.3" text-anchor="end" fill="#333" >1000</text>
<line x1="380.00" y1="235.50" x2="383.40" y2="235.50" stroke="#3a3a3a" stroke-width="1"/>
<text x="378.60" y="237.80" font-size="8.3" text-anchor="end" fill="#333" >2000</text>
<line x1="380.00" y1="213.50" x2="383.40" y2="213.50" stroke="#3a3a3a" stroke-width="1"/>
<text x="378.60" y="215.80" font-size="8.3" text-anchor="end" fill="#333" >3000</text>
<line x1="380.00" y1="191.50" x2="383.40" y2="191.50" stroke="#3a3a3a" stroke-width="1"/>
<text x="378.60" y="193.80" font-size="8.3" text-anchor="end" fill="#333" >4000</text>
<line x1="380.30" y1="279.50" x2="472.80" y2="279.50" stroke="#3a3a3a" stroke-width="1"/>
<text x="0" y="0" font-size="9.5" text-anchor="middle" fill="#000" transform="translate(354.60,227.50) rotate(-90)">MFI</text>
<rect x="390.50" y="215.50" width="14.00" height="63.60" fill="#d3d4d6" stroke="#3a3a3a" stroke-width="1"/>
<line x1="397.50" y1="279.10" x2="397.50" y2="282.60" stroke="#3a3a3a" stroke-width="1"/>
<rect x="411.50" y="211.50" width="13.00" height="67.60" fill="#8486c1" stroke="#3a3a3a" stroke-width="1"/>
<line x1="418.50" y1="279.10" x2="418.50" y2="282.60" stroke="#3a3a3a" stroke-width="1"/>
<rect x="431.50" y="229.50" width="14.00" height="49.60" fill="#f79d42" stroke="#3a3a3a" stroke-width="1"/>
<line x1="438.50" y1="279.10" x2="438.50" y2="282.60" stroke="#3a3a3a" stroke-width="1"/>
<rect x="451.50" y="221.50" width="14.00" height="57.60" fill="#ef5f95" stroke="#3a3a3a" stroke-width="1"/>
<line x1="458.50" y1="279.10" x2="458.50" y2="282.60" stroke="#3a3a3a" stroke-width="1"/>
<line x1="397.50" y1="213.50" x2="397.50" y2="218.00" stroke="#333" stroke-width="1"/>
<line x1="394.40" y1="213.50" x2="400.40" y2="213.50" stroke="#333" stroke-width="1"/>
<line x1="394.40" y1="218.50" x2="400.40" y2="218.50" stroke="#333" stroke-width="1"/>
<circle cx="391.50" cy="216.00" r="1.35" fill="#fff" stroke="#333" stroke-width="0.8"/>
<circle cx="395.50" cy="214.00" r="1.35" fill="#fff" stroke="#333" stroke-width="0.8"/>
<circle cx="397.50" cy="217.50" r="1.35" fill="#fff" stroke="#333" stroke-width="0.8"/>
<circle cx="400.00" cy="215.00" r="1.35" fill="#fff" stroke="#333" stroke-width="0.8"/>
<circle cx="403.00" cy="215.50" r="1.35" fill="#fff" stroke="#333" stroke-width="0.8"/>
<circle cx="396.00" cy="219.00" r="1.35" fill="#fff" stroke="#333" stroke-width="0.8"/>
<line x1="417.50" y1="208.00" x2="417.50" y2="213.00" stroke="#333" stroke-width="1"/>
<line x1="414.90" y1="208.50" x2="420.90" y2="208.50" stroke="#333" stroke-width="1"/>
<line x1="414.90" y1="213.50" x2="420.90" y2="213.50" stroke="#333" stroke-width="1"/>
<circle cx="412.50" cy="211.20" r="1.35" fill="#fff" stroke="#333" stroke-width="0.8"/>
<circle cx="418.00" cy="207.00" r="1.35" fill="#fff" stroke="#333" stroke-width="0.8"/>
<circle cx="418.00" cy="210.00" r="1.35" fill="#fff" stroke="#333" stroke-width="0.8"/>
<circle cx="421.00" cy="209.00" r="1.35" fill="#fff" stroke="#333" stroke-width="0.8"/>
<circle cx="424.00" cy="211.50" r="1.35" fill="#fff" stroke="#333" stroke-width="0.8"/>
<circle cx="418.00" cy="212.50" r="1.35" fill="#fff" stroke="#333" stroke-width="0.8"/>
<line x1="438.50" y1="226.00" x2="438.50" y2="231.00" stroke="#333" stroke-width="1"/>
<line x1="435.20" y1="226.50" x2="441.20" y2="226.50" stroke="#333" stroke-width="1"/>
<line x1="435.20" y1="231.50" x2="441.20" y2="231.50" stroke="#333" stroke-width="1"/>
<circle cx="433.50" cy="226.30" r="1.35" fill="#fff" stroke="#333" stroke-width="0.8"/>
<circle cx="438.00" cy="225.00" r="1.35" fill="#fff" stroke="#333" stroke-width="0.8"/>
<circle cx="441.50" cy="226.50" r="1.35" fill="#fff" stroke="#333" stroke-width="0.8"/>
<circle cx="434.00" cy="230.20" r="1.35" fill="#fff" stroke="#333" stroke-width="0.8"/>
<circle cx="440.00" cy="229.50" r="1.35" fill="#fff" stroke="#333" stroke-width="0.8"/>
<circle cx="444.50" cy="229.50" r="1.35" fill="#fff" stroke="#333" stroke-width="0.8"/>
<line x1="458.50" y1="220.00" x2="458.50" y2="224.00" stroke="#333" stroke-width="1"/>
<line x1="455.60" y1="220.50" x2="461.60" y2="220.50" stroke="#333" stroke-width="1"/>
<line x1="455.60" y1="224.50" x2="461.60" y2="224.50" stroke="#333" stroke-width="1"/>
<circle cx="453.30" cy="219.50" r="1.35" fill="#fff" stroke="#333" stroke-width="0.8"/>
<circle cx="457.00" cy="222.30" r="1.35" fill="#fff" stroke="#333" stroke-width="0.8"/>
<circle cx="461.00" cy="222.30" r="1.35" fill="#fff" stroke="#333" stroke-width="0.8"/>
<circle cx="464.50" cy="222.30" r="1.35" fill="#fff" stroke="#333" stroke-width="0.8"/>
<circle cx="456.00" cy="225.50" r="1.35" fill="#fff" stroke="#333" stroke-width="0.8"/>
<circle cx="457.00" cy="219.80" r="1.35" fill="#fff" stroke="#333" stroke-width="0.8"/>
<polyline points="397.50,186.50 397.50,182.50 438.50,182.50 438.50,197.50" fill="none" stroke="#4a4a4a" stroke-width="1"/>
<path d="M408.30,174.50L408.30,179.30M406.22,175.70L410.38,178.10M410.38,175.70L406.22,178.10" stroke="#222" stroke-width="1.0" stroke-linecap="round" fill="none"/>
<circle cx="408.30" cy="176.90" r="0.9" fill="#222"/>
<path d="M414.70,174.50L414.70,179.30M412.62,175.70L416.78,178.10M416.78,175.70L412.62,178.10" stroke="#222" stroke-width="1.0" stroke-linecap="round" fill="none"/>
<circle cx="414.70" cy="176.90" r="0.9" fill="#222"/>
<path d="M421.10,174.50L421.10,179.30M419.02,175.70L423.18,178.10M423.18,175.70L419.02,178.10" stroke="#222" stroke-width="1.0" stroke-linecap="round" fill="none"/>
<circle cx="421.10" cy="176.90" r="0.9" fill="#222"/>
<path d="M427.50,174.50L427.50,179.30M425.42,175.70L429.58,178.10M429.58,175.70L425.42,178.10" stroke="#222" stroke-width="1.0" stroke-linecap="round" fill="none"/>
<circle cx="427.50" cy="176.90" r="0.9" fill="#222"/>
<polyline points="397.50,208.50 397.50,199.50 417.50,199.50 417.50,203.50" fill="none" stroke="#4a4a4a" stroke-width="1"/>
<path d="M398.30,191.70L398.30,196.50M396.22,192.90L400.38,195.30M400.38,192.90L396.22,195.30" stroke="#222" stroke-width="1.0" stroke-linecap="round" fill="none"/>
<circle cx="398.30" cy="194.10" r="0.9" fill="#222"/>
<path d="M404.50,191.70L404.50,196.50M402.42,192.90L406.58,195.30M406.58,192.90L402.42,195.30" stroke="#222" stroke-width="1.0" stroke-linecap="round" fill="none"/>
<circle cx="404.50" cy="194.10" r="0.9" fill="#222"/>
<path d="M410.70,191.70L410.70,196.50M408.62,192.90L412.78,195.30M412.78,192.90L408.62,195.30" stroke="#222" stroke-width="1.0" stroke-linecap="round" fill="none"/>
<circle cx="410.70" cy="194.10" r="0.9" fill="#222"/>
<path d="M416.90,191.70L416.90,196.50M414.82,192.90L418.98,195.30M418.98,192.90L414.82,195.30" stroke="#222" stroke-width="1.0" stroke-linecap="round" fill="none"/>
<circle cx="416.90" cy="194.10" r="0.9" fill="#222"/>
<polyline points="438.50,220.50 438.50,210.50 458.50,210.50 458.50,217.50" fill="none" stroke="#4a4a4a" stroke-width="1"/>
<path d="M439.20,202.70L439.20,207.50M437.12,203.90L441.28,206.30M441.28,203.90L437.12,206.30" stroke="#222" stroke-width="1.0" stroke-linecap="round" fill="none"/>
<circle cx="439.20" cy="205.10" r="0.9" fill="#222"/>
<path d="M445.30,202.70L445.30,207.50M443.22,203.90L447.38,206.30M447.38,203.90L443.22,206.30" stroke="#222" stroke-width="1.0" stroke-linecap="round" fill="none"/>
<circle cx="445.30" cy="205.10" r="0.9" fill="#222"/>
<path d="M451.40,202.70L451.40,207.50M449.32,203.90L453.48,206.30M453.48,203.90L449.32,206.30" stroke="#222" stroke-width="1.0" stroke-linecap="round" fill="none"/>
<circle cx="451.40" cy="205.10" r="0.9" fill="#222"/>
<path d="M457.50,202.70L457.50,207.50M455.42,203.90L459.58,206.30M459.58,203.90L455.42,206.30" stroke="#222" stroke-width="1.0" stroke-linecap="round" fill="none"/>
<circle cx="457.50" cy="205.10" r="0.9" fill="#222"/>
<rect x="485.70" y="214.70" width="4.60" height="4.60" fill="#d3d4d6" stroke="#555" stroke-width="0.8"/>
<text x="492.80" y="220.30" font-size="9.65" text-anchor="start" fill="#000" >OT1 + BMDM (TCM)</text>
<rect x="485.70" y="231.30" width="4.60" height="4.60" fill="#8486c1" stroke="#555" stroke-width="0.8"/>
<text x="492.80" y="236.90" font-size="9.65" text-anchor="start" fill="#000" >OT1 + BMDM (TCM + Troglitazone)</text>
<rect x="485.70" y="248.00" width="4.60" height="4.60" fill="#f79d42" stroke="#555" stroke-width="0.8"/>
<text x="492.80" y="253.60" font-size="9.65" text-anchor="start" fill="#000" >OT1 + BMDM (TCM + 25-HC)</text>
<rect x="485.70" y="264.70" width="4.60" height="4.60" fill="#ef5f95" stroke="#555" stroke-width="0.8"/>
<text x="492.80" y="270.30" font-size="9.65" text-anchor="start" fill="#000" >OT1 + BMDM (TCM + 25-HC + Troglitazone)</text>
<line x1="38.50" y1="344.80" x2="38.50" y2="480.30" stroke="#3a3a3a" stroke-width="1"/>
<line x1="36.00" y1="479.50" x2="38.40" y2="479.50" stroke="#3a3a3a" stroke-width="1"/>
<text x="32.00" y="481.40" font-size="8.1" text-anchor="end" fill="#333" >0</text>
<line x1="36.00" y1="460.50" x2="38.40" y2="460.50" stroke="#3a3a3a" stroke-width="1"/>
<text x="32.00" y="462.20" font-size="8.1" text-anchor="end" fill="#333" >20</text>
<line x1="36.00" y1="441.50" x2="38.40" y2="441.50" stroke="#3a3a3a" stroke-width="1"/>
<text x="32.00" y="443.00" font-size="8.1" text-anchor="end" fill="#333" >40</text>
<line x1="36.00" y1="422.50" x2="38.40" y2="422.50" stroke="#3a3a3a" stroke-width="1"/>
<text x="32.00" y="423.80" font-size="8.1" text-anchor="end" fill="#333" >60</text>
<line x1="36.00" y1="403.50" x2="38.40" y2="403.50" stroke="#3a3a3a" stroke-width="1"/>
<text x="32.00" y="404.60" font-size="8.1" text-anchor="end" fill="#333" >80</text>
<line x1="36.00" y1="383.50" x2="38.40" y2="383.50" stroke="#3a3a3a" stroke-width="1"/>
<text x="32.00" y="385.40" font-size="8.1" text-anchor="end" fill="#333" >100</text>
<line x1="36.00" y1="364.50" x2="38.40" y2="364.50" stroke="#3a3a3a" stroke-width="1"/>
<text x="32.00" y="366.20" font-size="8.1" text-anchor="end" fill="#333" >120</text>
<line x1="36.00" y1="345.50" x2="38.40" y2="345.50" stroke="#3a3a3a" stroke-width="1"/>
<text x="32.00" y="347.00" font-size="8.1" text-anchor="end" fill="#333" >140</text>
<line x1="38.40" y1="479.50" x2="214.40" y2="479.50" stroke="#3a3a3a" stroke-width="1"/>
<line x1="50.50" y1="479.80" x2="50.50" y2="482.60" stroke="#3a3a3a" stroke-width="1"/>
<text x="50.40" y="491.60" font-size="8.2" text-anchor="middle" fill="#333" >4</text>
<line x1="69.50" y1="479.80" x2="69.50" y2="482.60" stroke="#3a3a3a" stroke-width="1"/>
<text x="69.40" y="491.60" font-size="8.2" text-anchor="middle" fill="#333" >6</text>
<line x1="88.50" y1="479.80" x2="88.50" y2="482.60" stroke="#3a3a3a" stroke-width="1"/>
<text x="88.40" y="491.60" font-size="8.2" text-anchor="middle" fill="#333" >8</text>
<line x1="107.50" y1="479.80" x2="107.50" y2="482.60" stroke="#3a3a3a" stroke-width="1"/>
<text x="107.40" y="491.60" font-size="8.2" text-anchor="middle" fill="#333" >10</text>
<line x1="126.50" y1="479.80" x2="126.50" y2="482.60" stroke="#3a3a3a" stroke-width="1"/>
<text x="126.40" y="491.60" font-size="8.2" text-anchor="middle" fill="#333" >12</text>
<line x1="145.50" y1="479.80" x2="145.50" y2="482.60" stroke="#3a3a3a" stroke-width="1"/>
<text x="145.40" y="491.60" font-size="8.2" text-anchor="middle" fill="#333" >14</text>
<line x1="164.50" y1="479.80" x2="164.50" y2="482.60" stroke="#3a3a3a" stroke-width="1"/>
<text x="164.40" y="491.60" font-size="8.2" text-anchor="middle" fill="#333" >16</text>
<line x1="183.50" y1="479.80" x2="183.50" y2="482.60" stroke="#3a3a3a" stroke-width="1"/>
<text x="183.40" y="491.60" font-size="8.2" text-anchor="middle" fill="#333" >18</text>
<line x1="202.50" y1="479.80" x2="202.50" y2="482.60" stroke="#3a3a3a" stroke-width="1"/>
<text x="202.40" y="491.60" font-size="8.2" text-anchor="middle" fill="#333" >20</text>
<text x="127.00" y="507.90" font-size="9.8" text-anchor="middle" fill="#000" >Day</text>
<text x="0" y="0" font-size="9.5" text-anchor="middle" fill="#000" transform="translate(9.20,403.50) rotate(-90)">Area(mm<tspan font-size="6" dy="-3.5">2</tspan><tspan dy="3.5">)</tspan></text>
<text x="46.50" y="354.90" font-size="9.6" text-anchor="start" fill="#2fa84f" >LEC<tspan font-size="6" dy="-3.8">WT</tspan></text>
<text x="46.50" y="369.80" font-size="9.6" text-anchor="start" fill="#666" >LEC<tspan font-size="5.8" dy="-4" fill="#999">△Ch25h</tspan></text>
<line x1="93.50" y1="347.20" x2="93.50" y2="369.70" stroke="#222" stroke-width="1.1"/>
<text x="99.60" y="331.60" font-size="9.8" text-anchor="start" fill="#000" >WT-BMDM</text>
<path d="M98.40,355.50L98.40,360.70M96.15,356.80L100.65,359.40M100.65,356.80L96.15,359.40" stroke="#111" stroke-width="1.0" stroke-linecap="round" fill="none"/>
<circle cx="98.40" cy="358.10" r="0.9" fill="#111"/>
<path d="M105.00,355.50L105.00,360.70M102.75,356.80L107.25,359.40M107.25,356.80L102.75,359.40" stroke="#111" stroke-width="1.0" stroke-linecap="round" fill="none"/>
<circle cx="105.00" cy="358.10" r="0.9" fill="#111"/>
<line x1="262.50" y1="344.80" x2="262.50" y2="480.30" stroke="#3a3a3a" stroke-width="1"/>
<line x1="259.70" y1="479.50" x2="262.10" y2="479.50" stroke="#3a3a3a" stroke-width="1"/>
<text x="255.70" y="481.40" font-size="8.1" text-anchor="end" fill="#333" >0</text>
<line x1="259.70" y1="460.50" x2="262.10" y2="460.50" stroke="#3a3a3a" stroke-width="1"/>
<text x="255.70" y="462.20" font-size="8.1" text-anchor="end" fill="#333" >20</text>
<line x1="259.70" y1="441.50" x2="262.10" y2="441.50" stroke="#3a3a3a" stroke-width="1"/>
<text x="255.70" y="443.00" font-size="8.1" text-anchor="end" fill="#333" >40</text>
<line x1="259.70" y1="422.50" x2="262.10" y2="422.50" stroke="#3a3a3a" stroke-width="1"/>
<text x="255.70" y="423.80" font-size="8.1" text-anchor="end" fill="#333" >60</text>
<line x1="259.70" y1="403.50" x2="262.10" y2="403.50" stroke="#3a3a3a" stroke-width="1"/>
<text x="255.70" y="404.60" font-size="8.1" text-anchor="end" fill="#333" >80</text>
<line x1="259.70" y1="383.50" x2="262.10" y2="383.50" stroke="#3a3a3a" stroke-width="1"/>
<text x="255.70" y="385.40" font-size="8.1" text-anchor="end" fill="#333" >100</text>
<line x1="259.70" y1="364.50" x2="262.10" y2="364.50" stroke="#3a3a3a" stroke-width="1"/>
<text x="255.70" y="366.20" font-size="8.1" text-anchor="end" fill="#333" >120</text>
<line x1="259.70" y1="345.50" x2="262.10" y2="345.50" stroke="#3a3a3a" stroke-width="1"/>
<text x="255.70" y="347.00" font-size="8.1" text-anchor="end" fill="#333" >140</text>
<line x1="260.30" y1="470.50" x2="262.10" y2="470.50" stroke="#3a3a3a" stroke-width="1"/>
<line x1="260.30" y1="451.50" x2="262.10" y2="451.50" stroke="#3a3a3a" stroke-width="1"/>
<line x1="260.30" y1="431.50" x2="262.10" y2="431.50" stroke="#3a3a3a" stroke-width="1"/>
<line x1="260.30" y1="412.50" x2="262.10" y2="412.50" stroke="#3a3a3a" stroke-width="1"/>
<line x1="260.30" y1="393.50" x2="262.10" y2="393.50" stroke="#3a3a3a" stroke-width="1"/>
<line x1="260.30" y1="374.50" x2="262.10" y2="374.50" stroke="#3a3a3a" stroke-width="1"/>
<line x1="260.30" y1="355.50" x2="262.10" y2="355.50" stroke="#3a3a3a" stroke-width="1"/>
<line x1="262.10" y1="479.50" x2="438.00" y2="479.50" stroke="#3a3a3a" stroke-width="1"/>
<line x1="274.50" y1="479.80" x2="274.50" y2="482.60" stroke="#3a3a3a" stroke-width="1"/>
<text x="274.40" y="491.60" font-size="8.2" text-anchor="middle" fill="#333" >4</text>
<line x1="293.50" y1="479.80" x2="293.50" y2="482.60" stroke="#3a3a3a" stroke-width="1"/>
<text x="293.35" y="491.60" font-size="8.2" text-anchor="middle" fill="#333" >6</text>
<line x1="312.50" y1="479.80" x2="312.50" y2="482.60" stroke="#3a3a3a" stroke-width="1"/>
<text x="312.30" y="491.60" font-size="8.2" text-anchor="middle" fill="#333" >8</text>
<line x1="331.50" y1="479.80" x2="331.50" y2="482.60" stroke="#3a3a3a" stroke-width="1"/>
<text x="331.25" y="491.60" font-size="8.2" text-anchor="middle" fill="#333" >10</text>
<line x1="350.50" y1="479.80" x2="350.50" y2="482.60" stroke="#3a3a3a" stroke-width="1"/>
<text x="350.20" y="491.60" font-size="8.2" text-anchor="middle" fill="#333" >12</text>
<line x1="369.50" y1="479.80" x2="369.50" y2="482.60" stroke="#3a3a3a" stroke-width="1"/>
<text x="369.15" y="491.60" font-size="8.2" text-anchor="middle" fill="#333" >14</text>
<line x1="388.50" y1="479.80" x2="388.50" y2="482.60" stroke="#3a3a3a" stroke-width="1"/>
<text x="388.10" y="491.60" font-size="8.2" text-anchor="middle" fill="#333" >16</text>
<line x1="407.50" y1="479.80" x2="407.50" y2="482.60" stroke="#3a3a3a" stroke-width="1"/>
<text x="407.05" y="491.60" font-size="8.2" text-anchor="middle" fill="#333" >18</text>
<line x1="426.50" y1="479.80" x2="426.50" y2="482.60" stroke="#3a3a3a" stroke-width="1"/>
<text x="426.00" y="491.60" font-size="8.2" text-anchor="middle" fill="#333" >20</text>
<text x="351.00" y="507.90" font-size="9.8" text-anchor="middle" fill="#000" >Day</text>
<text x="0" y="0" font-size="9.5" text-anchor="middle" fill="#000" transform="translate(232.90,403.50) rotate(-90)">Area(mm<tspan font-size="6" dy="-3.5">2</tspan><tspan dy="3.5">)</tspan></text>
<text x="270.80" y="354.90" font-size="9.6" text-anchor="start" fill="#2fa84f" >LEC<tspan font-size="6" dy="-3.8">WT</tspan></text>
<text x="270.80" y="369.80" font-size="9.6" text-anchor="start" fill="#666" >LEC<tspan font-size="5.8" dy="-4" fill="#999">△Ch25h</tspan></text>
<line x1="318.50" y1="347.20" x2="318.50" y2="369.70" stroke="#222" stroke-width="1.1"/>
<text x="313.20" y="331.40" font-size="9.7" text-anchor="start" fill="#000" >PPAR-γ<tspan font-size="6.2" dy="-3.5">KD</tspan><tspan dy="3.5">-BMDM</tspan></text>
<text x="321.30" y="359.90" font-size="7.8" text-anchor="start" fill="#222" >ns</text>
<text x="50.80" y="430.00" font-size="8.8" text-anchor="middle" fill="#f05a28" >Vax</text>
<line x1="50.50" y1="434.50" x2="50.50" y2="444.60" stroke="#f05a28" stroke-width="1"/>
<path d="M48.30,442.40L50.80,447.60L53.30,442.40Z" fill="#f05a28"/>
<text x="89.00" y="420.10" font-size="8.8" text-anchor="middle" fill="#f05a28" >Vax</text>
<line x1="89.50" y1="424.50" x2="89.50" y2="434.80" stroke="#f05a28" stroke-width="1"/>
<path d="M86.50,432.60L89.00,437.80L91.50,432.60Z" fill="#f05a28"/>
<text x="274.60" y="429.90" font-size="8.8" text-anchor="middle" fill="#f05a28" >Vax</text>
<line x1="274.50" y1="433.70" x2="274.50" y2="443.90" stroke="#f05a28" stroke-width="1"/>
<path d="M272.10,441.70L274.60,446.90L277.10,441.70Z" fill="#f05a28"/>
<text x="312.80" y="424.40" font-size="8.8" text-anchor="middle" fill="#f05a28" >Vax</text>
<line x1="312.50" y1="428.20" x2="312.50" y2="438.90" stroke="#f05a28" stroke-width="1"/>
<path d="M310.30,436.70L312.80,441.90L315.30,436.70Z" fill="#f05a28"/>
<polyline points="50.40,457.50 69.40,451.70 88.40,448.80 107.40,439.80 126.40,429.60 145.40,416.70 164.40,412.40 183.40,398.30 202.40,366.50" fill="none" stroke="#808080" stroke-width="1.2"/>
<line x1="50.50" y1="455.50" x2="50.50" y2="459.50" stroke="#808080" stroke-width="1"/>
<line x1="49.40" y1="455.50" x2="51.40" y2="455.50" stroke="#808080" stroke-width="1"/>
<line x1="49.40" y1="459.50" x2="51.40" y2="459.50" stroke="#808080" stroke-width="1"/>
<rect x="49.40" y="456.50" width="2" height="2" fill="#808080"/>
<line x1="69.50" y1="449.50" x2="69.50" y2="454.00" stroke="#808080" stroke-width="1"/>
<line x1="68.40" y1="449.50" x2="70.40" y2="449.50" stroke="#808080" stroke-width="1"/>
<line x1="68.40" y1="454.50" x2="70.40" y2="454.50" stroke="#808080" stroke-width="1"/>
<rect x="68.40" y="450.70" width="2" height="2" fill="#808080"/>
<line x1="88.50" y1="446.00" x2="88.50" y2="451.50" stroke="#808080" stroke-width="1"/>
<line x1="87.40" y1="446.50" x2="89.40" y2="446.50" stroke="#808080" stroke-width="1"/>
<line x1="87.40" y1="451.50" x2="89.40" y2="451.50" stroke="#808080" stroke-width="1"/>
<rect x="87.40" y="447.80" width="2" height="2" fill="#808080"/>
<line x1="107.50" y1="435.50" x2="107.50" y2="444.00" stroke="#808080" stroke-width="1"/>
<line x1="106.40" y1="435.50" x2="108.40" y2="435.50" stroke="#808080" stroke-width="1"/>
<line x1="106.40" y1="444.50" x2="108.40" y2="444.50" stroke="#808080" stroke-width="1"/>
<rect x="106.40" y="438.80" width="2" height="2" fill="#808080"/>
<line x1="126.50" y1="423.70" x2="126.50" y2="435.50" stroke="#808080" stroke-width="1"/>
<line x1="125.40" y1="423.50" x2="127.40" y2="423.50" stroke="#808080" stroke-width="1"/>
<line x1="125.40" y1="435.50" x2="127.40" y2="435.50" stroke="#808080" stroke-width="1"/>
<rect x="125.40" y="428.60" width="2" height="2" fill="#808080"/>
<line x1="145.50" y1="408.40" x2="145.50" y2="424.90" stroke="#808080" stroke-width="1"/>
<line x1="144.40" y1="408.50" x2="146.40" y2="408.50" stroke="#808080" stroke-width="1"/>
<line x1="144.40" y1="424.50" x2="146.40" y2="424.50" stroke="#808080" stroke-width="1"/>
<rect x="144.40" y="415.70" width="2" height="2" fill="#808080"/>
<line x1="164.50" y1="400.70" x2="164.50" y2="423.70" stroke="#808080" stroke-width="1"/>
<line x1="163.40" y1="400.50" x2="165.40" y2="400.50" stroke="#808080" stroke-width="1"/>
<line x1="163.40" y1="423.50" x2="165.40" y2="423.50" stroke="#808080" stroke-width="1"/>
<rect x="163.40" y="411.40" width="2" height="2" fill="#808080"/>
<line x1="183.50" y1="386.50" x2="183.50" y2="410.80" stroke="#808080" stroke-width="1"/>
<line x1="182.40" y1="386.50" x2="184.40" y2="386.50" stroke="#808080" stroke-width="1"/>
<line x1="182.40" y1="410.50" x2="184.40" y2="410.50" stroke="#808080" stroke-width="1"/>
<rect x="182.40" y="397.30" width="2" height="2" fill="#808080"/>
<line x1="202.50" y1="350.00" x2="202.50" y2="383.70" stroke="#808080" stroke-width="1"/>
<line x1="201.40" y1="350.50" x2="203.40" y2="350.50" stroke="#808080" stroke-width="1"/>
<line x1="201.40" y1="383.50" x2="203.40" y2="383.50" stroke="#808080" stroke-width="1"/>
<rect x="201.40" y="365.50" width="2" height="2" fill="#808080"/>
<polyline points="50.40,460.40 69.40,458.40 88.40,456.90 107.40,454.00 126.40,451.10 145.40,443.60 164.40,442.50 183.40,437.20 202.40,431.70" fill="none" stroke="#2fa84f" stroke-width="1.2"/>
<line x1="50.50" y1="458.00" x2="50.50" y2="462.50" stroke="#2fa84f" stroke-width="1"/>
<line x1="49.40" y1="458.50" x2="51.40" y2="458.50" stroke="#2fa84f" stroke-width="1"/>
<line x1="49.40" y1="462.50" x2="51.40" y2="462.50" stroke="#2fa84f" stroke-width="1"/>
<rect x="49.40" y="459.40" width="2" height="2" fill="#2fa84f"/>
<line x1="69.50" y1="456.50" x2="69.50" y2="460.50" stroke="#2fa84f" stroke-width="1"/>
<line x1="68.40" y1="456.50" x2="70.40" y2="456.50" stroke="#2fa84f" stroke-width="1"/>
<line x1="68.40" y1="460.50" x2="70.40" y2="460.50" stroke="#2fa84f" stroke-width="1"/>
<rect x="68.40" y="457.40" width="2" height="2" fill="#2fa84f"/>
<line x1="88.50" y1="454.50" x2="88.50" y2="459.00" stroke="#2fa84f" stroke-width="1"/>
<line x1="87.40" y1="454.50" x2="89.40" y2="454.50" stroke="#2fa84f" stroke-width="1"/>
<line x1="87.40" y1="459.50" x2="89.40" y2="459.50" stroke="#2fa84f" stroke-width="1"/>
<rect x="87.40" y="455.90" width="2" height="2" fill="#2fa84f"/>
<line x1="107.50" y1="450.50" x2="107.50" y2="457.50" stroke="#2fa84f" stroke-width="1"/>
<line x1="106.40" y1="450.50" x2="108.40" y2="450.50" stroke="#2fa84f" stroke-width="1"/>
<line x1="106.40" y1="457.50" x2="108.40" y2="457.50" stroke="#2fa84f" stroke-width="1"/>
<rect x="106.40" y="453.00" width="2" height="2" fill="#2fa84f"/>
<line x1="126.50" y1="447.50" x2="126.50" y2="454.50" stroke="#2fa84f" stroke-width="1"/>
<line x1="125.40" y1="447.50" x2="127.40" y2="447.50" stroke="#2fa84f" stroke-width="1"/>
<line x1="125.40" y1="454.50" x2="127.40" y2="454.50" stroke="#2fa84f" stroke-width="1"/>
<rect x="125.40" y="450.10" width="2" height="2" fill="#2fa84f"/>
<line x1="145.50" y1="438.80" x2="145.50" y2="447.80" stroke="#2fa84f" stroke-width="1"/>
<line x1="144.40" y1="438.50" x2="146.40" y2="438.50" stroke="#2fa84f" stroke-width="1"/>
<line x1="144.40" y1="447.50" x2="146.40" y2="447.50" stroke="#2fa84f" stroke-width="1"/>
<rect x="144.40" y="442.60" width="2" height="2" fill="#2fa84f"/>
<line x1="164.50" y1="437.20" x2="164.50" y2="447.00" stroke="#2fa84f" stroke-width="1"/>
<line x1="163.40" y1="437.50" x2="165.40" y2="437.50" stroke="#2fa84f" stroke-width="1"/>
<line x1="163.40" y1="447.50" x2="165.40" y2="447.50" stroke="#2fa84f" stroke-width="1"/>
<rect x="163.40" y="441.50" width="2" height="2" fill="#2fa84f"/>
<line x1="183.50" y1="430.10" x2="183.50" y2="443.80" stroke="#2fa84f" stroke-width="1"/>
<line x1="182.40" y1="430.50" x2="184.40" y2="430.50" stroke="#2fa84f" stroke-width="1"/>
<line x1="182.40" y1="443.50" x2="184.40" y2="443.50" stroke="#2fa84f" stroke-width="1"/>
<rect x="182.40" y="436.20" width="2" height="2" fill="#2fa84f"/>
<line x1="202.50" y1="425.40" x2="202.50" y2="437.90" stroke="#2fa84f" stroke-width="1"/>
<line x1="201.40" y1="425.50" x2="203.40" y2="425.50" stroke="#2fa84f" stroke-width="1"/>
<line x1="201.40" y1="437.50" x2="203.40" y2="437.50" stroke="#2fa84f" stroke-width="1"/>
<rect x="201.40" y="430.70" width="2" height="2" fill="#2fa84f"/>
<polyline points="274.40,457.30 293.35,455.10 312.30,451.80 331.25,449.20 350.20,443.00 369.15,437.60 388.10,438.30 407.05,433.60 426.00,426.50" fill="none" stroke="#808080" stroke-width="1.2"/>
<line x1="274.50" y1="455.50" x2="274.50" y2="459.00" stroke="#808080" stroke-width="1"/>
<line x1="273.40" y1="455.50" x2="275.40" y2="455.50" stroke="#808080" stroke-width="1"/>
<line x1="273.40" y1="459.50" x2="275.40" y2="459.50" stroke="#808080" stroke-width="1"/>
<rect x="273.40" y="456.30" width="2" height="2" fill="#808080"/>
<line x1="293.50" y1="453.00" x2="293.50" y2="457.00" stroke="#808080" stroke-width="1"/>
<line x1="292.35" y1="453.50" x2="294.35" y2="453.50" stroke="#808080" stroke-width="1"/>
<line x1="292.35" y1="457.50" x2="294.35" y2="457.50" stroke="#808080" stroke-width="1"/>
<rect x="292.35" y="454.10" width="2" height="2" fill="#808080"/>
<line x1="312.50" y1="449.50" x2="312.50" y2="454.00" stroke="#808080" stroke-width="1"/>
<line x1="311.30" y1="449.50" x2="313.30" y2="449.50" stroke="#808080" stroke-width="1"/>
<line x1="311.30" y1="454.50" x2="313.30" y2="454.50" stroke="#808080" stroke-width="1"/>
<rect x="311.30" y="450.80" width="2" height="2" fill="#808080"/>
<line x1="331.50" y1="446.50" x2="331.50" y2="451.50" stroke="#808080" stroke-width="1"/>
<line x1="330.25" y1="446.50" x2="332.25" y2="446.50" stroke="#808080" stroke-width="1"/>
<line x1="330.25" y1="451.50" x2="332.25" y2="451.50" stroke="#808080" stroke-width="1"/>
<rect x="330.25" y="448.20" width="2" height="2" fill="#808080"/>
<line x1="350.50" y1="437.00" x2="350.50" y2="448.90" stroke="#808080" stroke-width="1"/>
<line x1="349.20" y1="437.50" x2="351.20" y2="437.50" stroke="#808080" stroke-width="1"/>
<line x1="349.20" y1="448.50" x2="351.20" y2="448.50" stroke="#808080" stroke-width="1"/>
<rect x="349.20" y="442.00" width="2" height="2" fill="#808080"/>
<line x1="369.50" y1="430.50" x2="369.50" y2="444.60" stroke="#808080" stroke-width="1"/>
<line x1="368.15" y1="430.50" x2="370.15" y2="430.50" stroke="#808080" stroke-width="1"/>
<line x1="368.15" y1="444.50" x2="370.15" y2="444.50" stroke="#808080" stroke-width="1"/>
<rect x="368.15" y="436.60" width="2" height="2" fill="#808080"/>
<line x1="388.50" y1="431.90" x2="388.50" y2="444.60" stroke="#808080" stroke-width="1"/>
<line x1="387.10" y1="431.50" x2="389.10" y2="431.50" stroke="#808080" stroke-width="1"/>
<line x1="387.10" y1="444.50" x2="389.10" y2="444.50" stroke="#808080" stroke-width="1"/>
<rect x="387.10" y="437.30" width="2" height="2" fill="#808080"/>
<line x1="407.50" y1="427.00" x2="407.50" y2="439.50" stroke="#808080" stroke-width="1"/>
<line x1="406.05" y1="427.50" x2="408.05" y2="427.50" stroke="#808080" stroke-width="1"/>
<line x1="406.05" y1="439.50" x2="408.05" y2="439.50" stroke="#808080" stroke-width="1"/>
<rect x="406.05" y="432.60" width="2" height="2" fill="#808080"/>
<line x1="426.50" y1="418.30" x2="426.50" y2="434.30" stroke="#808080" stroke-width="1"/>
<line x1="425.00" y1="418.50" x2="427.00" y2="418.50" stroke="#808080" stroke-width="1"/>
<line x1="425.00" y1="434.50" x2="427.00" y2="434.50" stroke="#808080" stroke-width="1"/>
<rect x="425.00" y="425.50" width="2" height="2" fill="#808080"/>
<polyline points="274.40,460.60 293.35,458.70 312.30,455.10 331.25,450.80 350.20,448.40 369.15,440.60 388.10,443.00 407.05,438.30 426.00,431.90" fill="none" stroke="#2fa84f" stroke-width="1.2"/>
<line x1="274.50" y1="459.00" x2="274.50" y2="462.00" stroke="#2fa84f" stroke-width="1"/>
<line x1="273.40" y1="459.50" x2="275.40" y2="459.50" stroke="#2fa84f" stroke-width="1"/>
<line x1="273.40" y1="462.50" x2="275.40" y2="462.50" stroke="#2fa84f" stroke-width="1"/>
<rect x="273.40" y="459.60" width="2" height="2" fill="#2fa84f"/>
<line x1="293.50" y1="457.00" x2="293.50" y2="460.50" stroke="#2fa84f" stroke-width="1"/>
<line x1="292.35" y1="457.50" x2="294.35" y2="457.50" stroke="#2fa84f" stroke-width="1"/>
<line x1="292.35" y1="460.50" x2="294.35" y2="460.50" stroke="#2fa84f" stroke-width="1"/>
<rect x="292.35" y="457.70" width="2" height="2" fill="#2fa84f"/>
<line x1="312.50" y1="453.00" x2="312.50" y2="457.00" stroke="#2fa84f" stroke-width="1"/>
<line x1="311.30" y1="453.50" x2="313.30" y2="453.50" stroke="#2fa84f" stroke-width="1"/>
<line x1="311.30" y1="457.50" x2="313.30" y2="457.50" stroke="#2fa84f" stroke-width="1"/>
<rect x="311.30" y="454.10" width="2" height="2" fill="#2fa84f"/>
<line x1="331.50" y1="449.00" x2="331.50" y2="452.50" stroke="#2fa84f" stroke-width="1"/>
<line x1="330.25" y1="449.50" x2="332.25" y2="449.50" stroke="#2fa84f" stroke-width="1"/>
<line x1="330.25" y1="452.50" x2="332.25" y2="452.50" stroke="#2fa84f" stroke-width="1"/>
<rect x="330.25" y="449.80" width="2" height="2" fill="#2fa84f"/>
<line x1="350.50" y1="446.00" x2="350.50" y2="451.00" stroke="#2fa84f" stroke-width="1"/>
<line x1="349.20" y1="446.50" x2="351.20" y2="446.50" stroke="#2fa84f" stroke-width="1"/>
<line x1="349.20" y1="451.50" x2="351.20" y2="451.50" stroke="#2fa84f" stroke-width="1"/>
<rect x="349.20" y="447.40" width="2" height="2" fill="#2fa84f"/>
<line x1="369.50" y1="437.00" x2="369.50" y2="445.30" stroke="#2fa84f" stroke-width="1"/>
<line x1="368.15" y1="437.50" x2="370.15" y2="437.50" stroke="#2fa84f" stroke-width="1"/>
<line x1="368.15" y1="445.50" x2="370.15" y2="445.50" stroke="#2fa84f" stroke-width="1"/>
<rect x="368.15" y="439.60" width="2" height="2" fill="#2fa84f"/>
<line x1="388.50" y1="439.50" x2="388.50" y2="446.50" stroke="#2fa84f" stroke-width="1"/>
<line x1="387.10" y1="439.50" x2="389.10" y2="439.50" stroke="#2fa84f" stroke-width="1"/>
<line x1="387.10" y1="446.50" x2="389.10" y2="446.50" stroke="#2fa84f" stroke-width="1"/>
<rect x="387.10" y="442.00" width="2" height="2" fill="#2fa84f"/>
<line x1="407.50" y1="434.00" x2="407.50" y2="443.00" stroke="#2fa84f" stroke-width="1"/>
<line x1="406.05" y1="434.50" x2="408.05" y2="434.50" stroke="#2fa84f" stroke-width="1"/>
<line x1="406.05" y1="443.50" x2="408.05" y2="443.50" stroke="#2fa84f" stroke-width="1"/>
<rect x="406.05" y="437.30" width="2" height="2" fill="#2fa84f"/>
<line x1="426.50" y1="425.30" x2="426.50" y2="440.20" stroke="#2fa84f" stroke-width="1"/>
<line x1="425.00" y1="425.50" x2="427.00" y2="425.50" stroke="#2fa84f" stroke-width="1"/>
<line x1="425.00" y1="440.50" x2="427.00" y2="440.50" stroke="#2fa84f" stroke-width="1"/>
<rect x="425.00" y="430.90" width="2" height="2" fill="#2fa84f"/>
</svg>
</body></html>
